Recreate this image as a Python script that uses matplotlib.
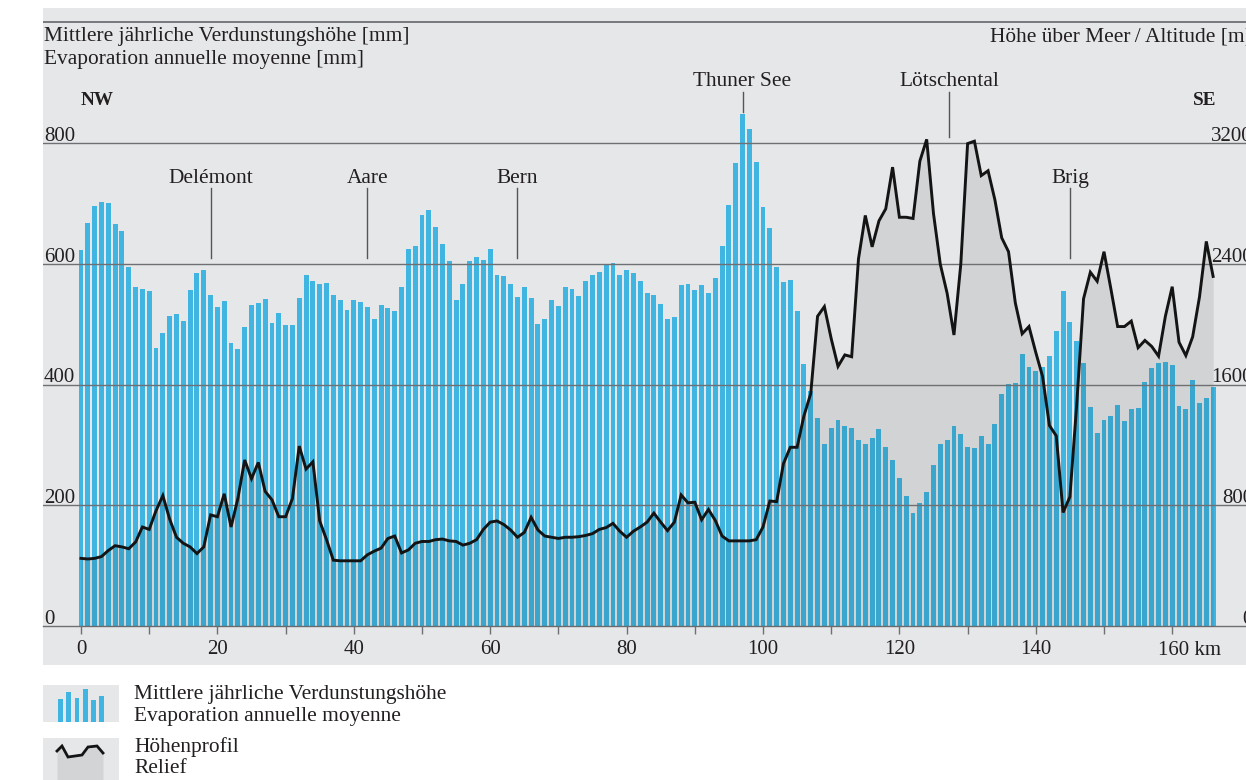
import matplotlib
matplotlib.use("Agg")
import matplotlib.pyplot as plt
import numpy as np

plt.rcParams['font.family'] = ['Liberation Serif', 'DejaVu Serif']

# ---------------- data ----------------
km = list(range(0, 167))

evaporation_mm = [
    622, 667, 695, 703, 700, 666, 654, 594, 561, 559, 555, 460, 486, 513, 516, 506, 557, 585, 590, 548,
    529, 539, 469, 459, 495, 532, 535, 541,
    502, 518, 498, 499, 544, 581, 572, 567, 568, 549, 540, 524, 540, 537, 529, 509, 532, 527, 521, 561,
    624, 629, 680, 689, 661, 632, 605,
    540, 566, 605, 611, 606, 625, 582, 579, 567, 545, 561, 543, 501, 509, 540, 530, 562, 559, 547, 572,
    582, 587, 599, 601, 581, 590, 585, 571,
    552, 549, 533, 509, 511, 565, 566, 557, 564, 552, 576, 630, 697, 767, 848, 824, 768, 694, 660, 594,
    569, 573, 521, 434, 390, 344, 301,
    328, 341, 332, 328, 308, 302, 311, 327, 297, 275, 245, 216, 187, 203, 222, 266, 301, 308, 331, 318,
    297, 295, 314, 301, 334, 384, 401, 402,
    451, 429, 423, 429, 448, 489, 555, 503, 472, 435, 363, 320, 341, 348, 366, 339, 359, 361, 404, 427,
    435, 437, 432, 364, 359, 408, 369, 378, 396,
]

altitude_m = [
    448, 444, 448, 460, 500, 532, 524, 512, 556, 656, 640, 764, 864, 708, 588, 548, 524, 480, 524, 736,
    724, 876, 656, 844, 1100, 976, 1084, 892, 836, 724, 724, 844, 1192, 1040, 1088, 696, 572, 436, 432, 432,
    432, 432, 472, 496, 516, 580, 596, 484, 504, 548, 560, 560, 572, 576, 564, 560, 536, 548, 572, 640,
    688, 696, 672, 636, 588, 620, 720, 636, 596, 588, 580, 588, 588, 592, 600, 612, 640, 652, 680, 628,
    588, 628, 656, 688, 748, 688, 632, 688, 868, 816, 820, 704, 772, 700, 596, 564, 564, 564, 564, 572,
    656, 828, 824, 1076, 1184, 1184, 1392, 1540, 2052, 2116, 1904, 1720, 1796, 1784, 2432, 2720, 2512, 2684, 2764, 3040,
    2708, 2708, 2700, 3080, 3224, 2732, 2396, 2204, 1928, 2396, 3196, 3212, 2984, 3016, 2824, 2572, 2480, 2140, 1936, 1984,
    1812, 1652, 1328, 1260, 752, 856, 1468, 2168, 2344, 2284, 2480, 2236, 1984, 1984, 2020, 1844, 1892, 1852, 1788, 2052,
    2248, 1880, 1792, 1916, 2180, 2548, 2316,
]

left_ticks = [0, 200, 400, 600, 800]
right_ticks = [0, 800, 1600, 2400, 3200]
x_ticks = list(range(0, 161, 10))
x_labels = ['0', '20', '40', '60', '80', '100', '120', '140', '160']

places = ['Delémont', 'Aare', 'Bern', 'Thuner See', 'Lötschental', 'Brig']
place_km = [19, 42, 64, 97, 127.3, 145]
place_high = [False, False, False, True, True, False]

header_de = 'Mittlere jährliche Verdunstungshöhe [mm]'
header_fr = 'Evaporation annuelle moyenne [mm]'
header_right = 'Höhe über Meer\u2009/\u2009Altitude [m]'
legend_texts = [('Mittlere jährliche Verdunstungshöhe', 'Evaporation annuelle moyenne'),
                ('Höhenprofil', 'Relief')]
legend_bar_heights = [23, 30, 24, 33, 22, 26]
legend_line_y = [751, 746, 757, 755, 747, 746, 753]

# ---------------- layout ----------------
W, H = 1246, 780
PANEL = '#e6e7e9'
BLUE = '#40b5e1'
GRID = '#6e7073'
TXT = '#231f20'
FS = 15.4   # body text
FT = 15     # tick labels

def X(px):  # pixel -> km
    return (px - 81) / 6.82

def Y(py):  # pixel -> mm
    return (626 - py) / 0.60375

fig = plt.figure(figsize=(W / 100, H / 100), dpi=100)
fig.patch.set_facecolor('white')

ax = fig.add_axes([43 / W, (H - 665) / H, (W - 43) / W, (665 - 8) / H])
ax.set_facecolor(PANEL)
ax.set_xlim(X(43), X(W))
ax.set_ylim(Y(665), Y(8))

ax.bar(km, evaporation_mm, width=0.72, color=BLUE, linewidth=0, zorder=2)

for s in ['top', 'left', 'right']:
    ax.spines[s].set_visible(False)
ax.spines['bottom'].set_position(('data', 0))
ax.spines['bottom'].set_color(GRID)
ax.spines['bottom'].set_linewidth(1.0)
ax.spines['bottom'].set_zorder(5)
ax.set_yticks([])
ax.set_xticks(x_ticks)
ax.set_xticklabels([x_labels[i // 2] if (i % 2 == 0 and i < 16) else '' for i in range(len(x_ticks))])
ax.tick_params(axis='x', direction='out', length=6, width=1.0, color=GRID,
               labelsize=FT, labelcolor=TXT, pad=4)
ax.annotate('160 km', xy=(160, 0), xytext=(-14, -29), textcoords='offset pixels',
            ha='left', va='baseline', fontsize=FT, color=TXT, annotation_clip=False)

ax2 = ax.twinx()
ax2.set_ylim(np.array(ax.get_ylim()) * 4)
ax2.set_xlim(ax.get_xlim())
ax2.fill_between(km, altitude_m, 0, color='black', alpha=0.085, linewidth=0, zorder=1)
for v in right_ticks[1:]:
    ax2.axhline(v, color=GRID, linewidth=1.0, zorder=2)
ax2.axhline(4000, color=GRID, linewidth=1.3, zorder=2)
ax2.plot(km, altitude_m, color='#141414', linewidth=2.1, solid_joinstyle='miter', zorder=3)
ax2.axis('off')

# tick labels on the left / right of panel
for v in left_ticks:
    ax.text(X(44), v + 3.5, str(v), ha='left', va='baseline', fontsize=FT, color=TXT, clip_on=False)
for v in right_ticks:
    ax.text(X(1253), v / 4 + 3.5, str(v), ha='right', va='baseline', fontsize=FT, color=TXT, clip_on=False)

# headers
ax.text(X(44), Y(41), header_de, ha='left', va='baseline', fontsize=FS, color=TXT)
ax.text(X(44), Y(64), header_fr, ha='left', va='baseline', fontsize=FS, color=TXT)
ax.text(X(990), Y(41), header_right, ha='left', va='baseline', fontsize=FS, color=TXT, clip_on=False)
ax.text(X(81), Y(105), 'NW', ha='left', va='baseline', fontsize=13.8, fontweight='bold', color=TXT)
ax.text(X(1216), Y(105), 'SE', ha='right', va='baseline', fontsize=13.8, fontweight='bold', color=TXT)

# place labels
for name, k, high in zip(places, place_km, place_high):
    if high:
        ax.text(k, Y(86), name, ha='center', va='baseline', fontsize=FS, color=TXT)
        ax.plot([k, k], [Y(92), Y(112) if name == 'Thuner See' else Y(137)],
                color='#555555', linewidth=1.0, zorder=4)
    else:
        ax.text(k, Y(183), name, ha='center', va='baseline', fontsize=FS, color=TXT)
        ax.plot([k, k], [Y(188), Y(258)], color='#555555', linewidth=1.0, zorder=4)

# ---------------- legend (pixel coordinates) ----------------
lg = fig.add_axes([0, 0, 1, 1])
lg.set_xlim(0, W)
lg.set_ylim(H, 0)
lg.axis('off')
lg.patch.set_visible(False)
lg.add_patch(plt.Rectangle((43, 685), 76, 37, color=PANEL, linewidth=0))
bar_x = [60.6 + 8.2 * i for i in range(len(legend_bar_heights))]
lg.bar(bar_x, [-h for h in legend_bar_heights], bottom=722, width=4.7, color=BLUE, linewidth=0)
lg.add_patch(plt.Rectangle((43, 738), 76, 45, color=PANEL, linewidth=0))
line_x = [57, 62, 68, 82, 88, 97, 103]
lg.fill_between(line_x, legend_line_y, 783, color='#d3d4d6', linewidth=0)
lg.plot(line_x, legend_line_y, color='#141414', linewidth=2.0, solid_joinstyle='miter')
lg.text(134, 699, legend_texts[0][0], ha='left', va='baseline', fontsize=FS, color=TXT)
lg.text(134, 721, legend_texts[0][1], ha='left', va='baseline', fontsize=FS, color=TXT)
lg.text(134, 752, legend_texts[1][0], ha='left', va='baseline', fontsize=FS, color=TXT)
lg.text(134, 773, legend_texts[1][1], ha='left', va='baseline', fontsize=FS, color=TXT)

fig.savefig('out.png', dpi=100, facecolor='white')
